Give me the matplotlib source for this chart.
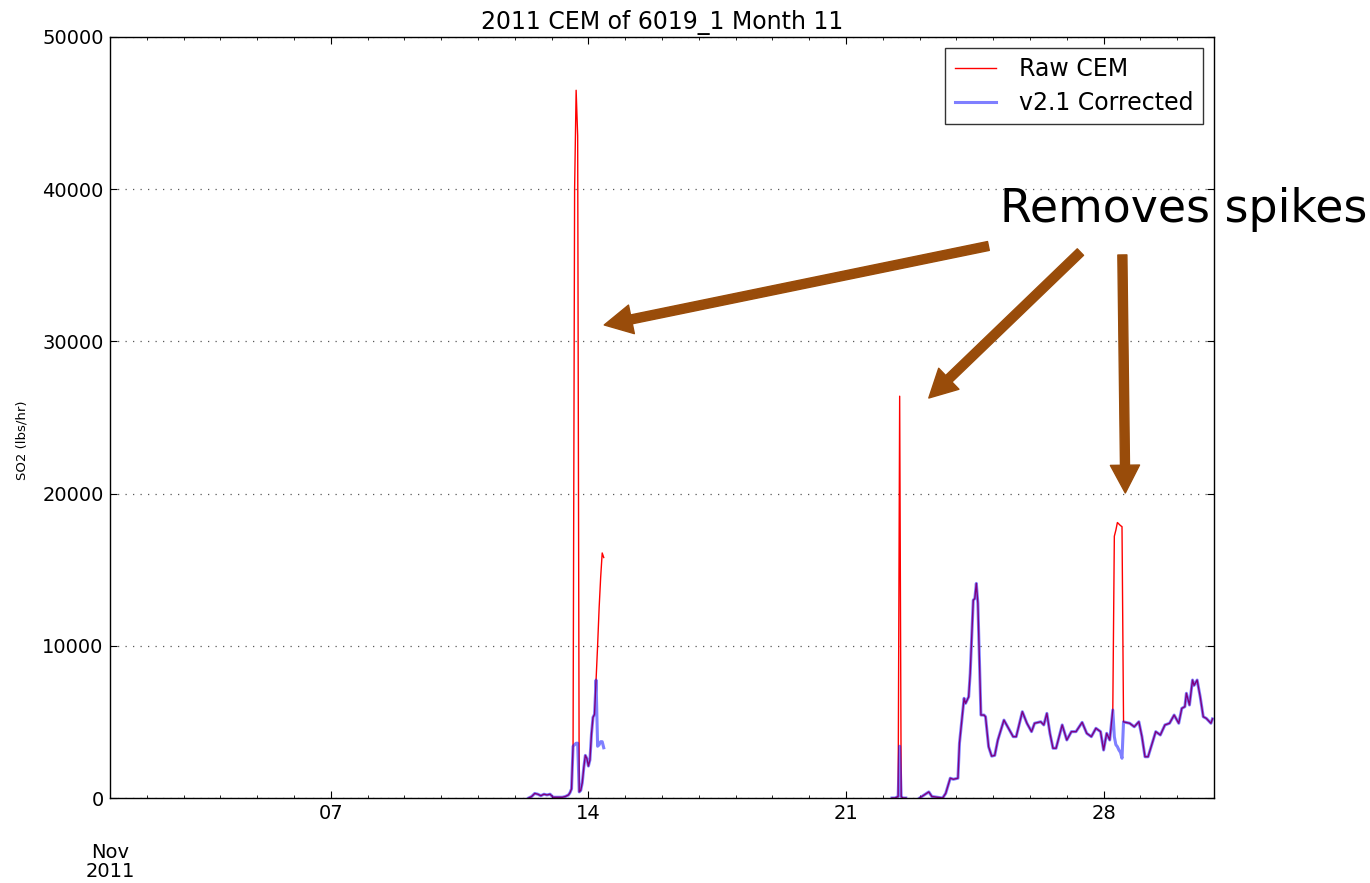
import numpy as np
import pandas as pd
import matplotlib
matplotlib.use('Agg')
import matplotlib.pyplot as plt
import matplotlib.dates as mdates

# часы от 2011-11-01 00:00, NaN = разрыв в данных
hours = [273, 275, 277, 279, 281, 283, 285, 287, 289, 291, 293, 295, 297, 299, 300,
         301, 302, 303, 304, 305, 306, 307, 308, 309, 310, 311, 312, 313, 314, 315,
         316, 317, 318, 319, 320, 321, 322, 323,
         510, 511, 512, 513, 514, 515, 516, 517, 518, 519, 520,
         528, 534, 536, 543, 545, 548, 550, 553, 554, 556, 557, 558, 560, 561, 563,
         564, 565, 566, 568, 570, 571, 573, 575, 577, 579, 581, 583, 586, 589, 591,
         595, 598, 601, 603, 607, 609, 611, 613, 615, 617, 621, 624, 627, 630, 634,
         637, 640, 643, 646, 648, 650, 652, 654, 655, 656, 657, 658, 659, 660, 661,
         665, 668, 671, 673, 675, 677, 679, 682, 685, 688, 691, 694, 697, 699, 701,
         702, 704, 706, 707, 709, 711, 713, 715, 718, 719]

corrected = [0, 100, 300, 250, 150, 250, 200, 250, 50, 50, 50, 50, 100, 200, 350,
             600, 3400, 3500, 3600, 3600, 400, 500, 1000, 2000, 2800, 2600, 2100, 2500, 4200, 5300,
             5500, 7750, 3400, 3500, 3700, 3700, 3300, np.nan,
             0, 0, 0, 50, 100, 3400, 100, 0, 0, 0, np.nan,
             0, 400, 100, 0, 300, 1300, 1230, 1300, 3600, 5560, 6550, 6220, 6650, 8190, 13000,
             13100, 14100, 12800, 5450, 5450, 5340, 3370, 2750, 2800, 3800, 4470, 5120, 4580, 4030, 4030,
             5670, 4910, 4360, 4910, 5010, 4800, 5560, 4250, 3270, 3270, 4800, 3810, 4360, 4360, 4970,
             4250, 4030, 4580, 4360, 3150, 4250, 3810, 5780, 4030, 3500, 3370, 3150, 3000, 2610, 5000,
             4910, 4680, 5010, 4030, 2710, 2710, 3370, 4360, 4140, 4800, 4910, 5450, 4910, 5890, 6000,
             6880, 6110, 7750, 7400, 7750, 6650, 5340, 5230, 4910, 5200]

# где сырые данные отличаются от исправленных (выбросы)
spike_hours = [303, 304, 305, 318, 319, 320, 321, 322, 515,
               655, 656, 657, 658, 659, 660]
spike_raw = [40000, 46500, 43500, 10000, 12500, 14500, 16100, 15800, 26400,
             17200, 17600, 18100, 18000, 17900, 17830]

start = pd.Timestamp('2011-11-01')
times = start + pd.to_timedelta(hours, unit='h')
corrected = np.array(corrected, dtype=float)
raw = corrected.copy()
for h, v in zip(spike_hours, spike_raw):
    raw[hours.index(h)] = v

fig = plt.figure(figsize=(13.7, 8.83), dpi=100)
ax = fig.add_axes([110 / 1370, 85 / 883, 1104 / 1370, 761 / 883])

ax.plot(times, raw, color='red', lw=1.0, label='Raw CEM')
ax.plot(times, corrected, color='blue', alpha=0.5, lw=2.2, label='v2.1 Corrected')

ax.set_xlim(start, pd.Timestamp('2011-12-01'))
ax.set_ylim(0, 50000)
ax.set_yticks([0, 10000, 20000, 30000, 40000, 50000])
ax.xaxis.set_major_locator(mdates.DayLocator(bymonthday=[7, 14, 21, 28]))
ax.xaxis.set_major_formatter(mdates.DateFormatter('%d'))
ax.xaxis.set_minor_locator(mdates.DayLocator())

ax.yaxis.grid(True, color='0.35', lw=0.9, dashes=(1, 5))
ax.tick_params(which='both', direction='in', top=True, right=True, labelsize=14)
ax.tick_params(which='major', length=5, pad=4.5)
ax.tick_params(which='minor', length=2.5)
for sp in ax.spines.values():
    sp.set_linewidth(1.0)

ax.set_title('2011 CEM of 6019_1 Month 11', fontsize=17)
ax.set_ylabel('SO2 (lbs/hr)', fontsize=9.5)
ax.yaxis.set_label_coords(-0.074, 0.47)
fig.text(110 / 1370, 1 - 862 / 883, 'Nov\n2011', ha='center', va='center',
         fontsize=14, linespacing=1.0)

leg = ax.legend(loc='upper right', fontsize=17, fancybox=False, edgecolor='black',
                handlelength=1.75, handletextpad=1.0, labelspacing=0.42,
                borderpad=0.4, borderaxespad=0.45)
leg.get_frame().set_linewidth(1.0)

# стрелки к выбросам
arrow_color = '#994c0a'
arrow_props = dict(facecolor=arrow_color, edgecolor=arrow_color, width=6.5,
                   headwidth=21, headlength=20, shrink=0)
day = pd.Timedelta(days=1)
ax.annotate('', xy=(start + 13.43 * day, 31080), xytext=(start + 23.87 * day, 36270),
            arrowprops=arrow_props)
ax.annotate('', xy=(start + 22.25 * day, 26280), xytext=(start + 26.37 * day, 35870),
            arrowprops=arrow_props)
ax.annotate('', xy=(start + 27.59 * day, 20040), xytext=(start + 27.51 * day, 35680),
            arrowprops=arrow_props)
fig.text(1000 / 1370, 1 - 209 / 883, 'Removes spikes', fontsize=33,
         ha='left', va='center')

fig.savefig('out.png', dpi=100, facecolor='white')
